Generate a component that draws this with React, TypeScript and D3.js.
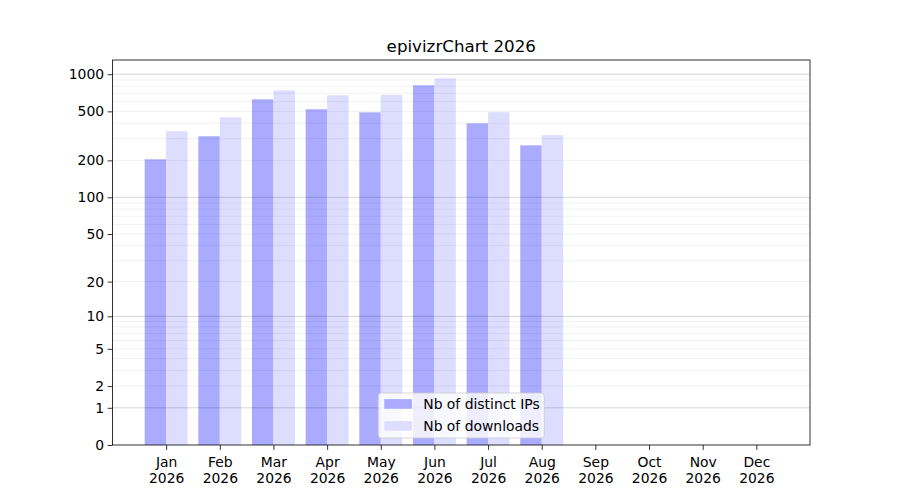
import { useEffect, useRef } from 'react';
import * as d3 from 'd3';

const months = ['Jan', 'Feb', 'Mar', 'Apr', 'May', 'Jun', 'Jul', 'Aug', 'Sep', 'Oct', 'Nov', 'Dec'];
const year = '2026';
const distinctIPs = [204, 314, 626, 520, 491, 813, 400, 265];
const downloads = [345, 448, 740, 675, 680, 926, 492, 320];
const yTicks = [0, 1, 2, 5, 10, 20, 50, 100, 200, 500, 1000];
const majorGrid = [1, 10, 100, 1000];
const minorGrid = [2, 3, 4, 5, 6, 7, 8, 9, 20, 30, 40, 50, 60, 70, 80, 90, 200, 300, 400, 500, 600, 700, 800, 900];

const colorIPs = '#aaaaff';
const colorDownloads = '#ddddff';

export default function App(): JSX.Element {
  const svgRef = useRef<SVGSVGElement>(null);

  useEffect(() => {
    if (svgRef.current) {
      svgRef.current.innerHTML = '';
    }
    const width = 900;
    const height = 500;
    const marginTop = 60;
    const marginRight = 90;
    const marginBottom = 55;
    const marginLeft = 112.5;
    const font = 'DejaVu Sans, sans-serif';

    // month index: Jan = 1 ... Dec = 12, one spare month each side
    const x = d3.scaleLinear([0, 13], [marginLeft, width - marginRight]);

    // log10(1 + v) scale, top has 5% margin in transformed space
    const maxV = d3.max(downloads.concat(distinctIPs)) as number;
    const topT = Math.log1p(maxV) * 1.05;
    const y = d3
      .scaleSymlog()
      .constant(1)
      .domain([0, Math.expm1(topT)])
      .range([height - marginBottom, marginTop]);

    const barW = 0.4;

    const svg = d3
      .select(svgRef.current)
      .attr('width', width)
      .attr('height', height)
      .attr('viewBox', [0, 0, width, height])
      .style('font-family', font);

    // bars
    svg
      .append('g')
      .selectAll('rect')
      .data(distinctIPs)
      .join('rect')
      .attr('x', (_, i) => x(i + 1 - barW))
      .attr('width', x(barW) - x(0))
      .attr('y', (d) => y(d))
      .attr('height', (d) => y(0) - y(d))
      .attr('fill', colorIPs);

    svg
      .append('g')
      .selectAll('rect')
      .data(downloads)
      .join('rect')
      .attr('x', (_, i) => x(i + 1))
      .attr('width', x(barW) - x(0))
      .attr('y', (d) => y(d))
      .attr('height', (d) => y(0) - y(d))
      .attr('fill', colorDownloads);

    // grid
    svg
      .append('g')
      .selectAll('line')
      .data(minorGrid)
      .join('line')
      .attr('x1', marginLeft)
      .attr('x2', width - marginRight)
      .attr('y1', (d) => y(d))
      .attr('y2', (d) => y(d))
      .attr('stroke', '#000')
      .attr('stroke-opacity', 0.07)
      .attr('stroke-width', 0.8);

    svg
      .append('g')
      .selectAll('line')
      .data(majorGrid)
      .join('line')
      .attr('x1', marginLeft)
      .attr('x2', width - marginRight)
      .attr('y1', (d) => y(d))
      .attr('y2', (d) => y(d))
      .attr('stroke', '#000')
      .attr('stroke-opacity', 0.2)
      .attr('stroke-width', 0.8);

    // x-axis
    const xAxis = svg
      .append('g')
      .attr('transform', `translate(0,${height - marginBottom})`)
      .call(
        d3
          .axisBottom(x)
          .tickValues(d3.range(1, 13))
          .tickSize(4.9)
          .tickPadding(3.5)
          .tickFormat(() => '')
      )
      .call((g) => g.select('.domain').remove());
    xAxis.selectAll('.tick line').attr('stroke', '#000').attr('stroke-width', 0.8);
    xAxis
      .selectAll('.tick text')
      .attr('fill', '#000')
      .attr('font-size', 13.9)
      .attr('font-family', font)
      .each(function (_, i) {
        const t = d3.select(this).attr('dy', null).attr('y', 8.5);
        t.append('tspan').attr('x', 0).attr('dy', '0.95em').text(months[i]);
        t.append('tspan').attr('x', 0).attr('dy', '1.17em').text(year);
      });

    // y-axis
    const yAxis = svg
      .append('g')
      .attr('transform', `translate(${marginLeft},0)`)
      .call(d3.axisLeft(y).tickValues(yTicks).tickSize(4.9).tickPadding(3.5).tickFormat(d3.format('d')))
      .call((g) => g.select('.domain').remove());
    yAxis.selectAll('.tick line').attr('stroke', '#000').attr('stroke-width', 0.8);
    yAxis.selectAll('.tick text').attr('fill', '#000').attr('font-size', 13.9).attr('font-family', font);

    // frame
    svg
      .append('rect')
      .attr('x', marginLeft)
      .attr('y', marginTop)
      .attr('width', width - marginLeft - marginRight)
      .attr('height', height - marginTop - marginBottom)
      .attr('fill', 'none')
      .attr('stroke', '#000')
      .attr('stroke-width', 0.8);

    // title
    svg
      .append('text')
      .attr('x', (marginLeft + width - marginRight) / 2)
      .attr('y', marginTop - 8)
      .attr('text-anchor', 'middle')
      .attr('font-size', 16.7)
      .attr('fill', '#000')
      .text(`epivizrChart ${year}`);

    // legend
    const legendItems = [
      { label: 'Nb of distinct IPs', color: colorIPs },
      { label: 'Nb of downloads', color: colorDownloads },
    ];
    const lgW = 166;
    const lgH = 45;
    const lgX = (marginLeft + width - marginRight) / 2 - lgW / 2;
    const lgY = height - marginBottom - 7 - lgH;
    const legend = svg.append('g').attr('transform', `translate(${lgX},${lgY})`);
    legend
      .append('rect')
      .attr('width', lgW)
      .attr('height', lgH)
      .attr('rx', 3)
      .attr('fill', '#fff')
      .attr('fill-opacity', 0.8)
      .attr('stroke', '#ccc')
      .attr('stroke-width', 0.8);
    legendItems.forEach((item, i) => {
      const cy = 11 + i * 22;
      legend
        .append('rect')
        .attr('x', 6)
        .attr('y', cy - 4.9)
        .attr('width', 27.8)
        .attr('height', 9.7)
        .attr('fill', item.color);
      legend
        .append('text')
        .attr('x', 45)
        .attr('y', cy)
        .attr('dy', '0.35em')
        .attr('font-size', 13.9)
        .attr('fill', '#000')
        .text(item.label);
    });
  }, []);

  return (
    <div>
      <svg ref={svgRef} style={{ display: 'block', marginTop: -8, marginLeft: -8 }} />
    </div>
  );
}
